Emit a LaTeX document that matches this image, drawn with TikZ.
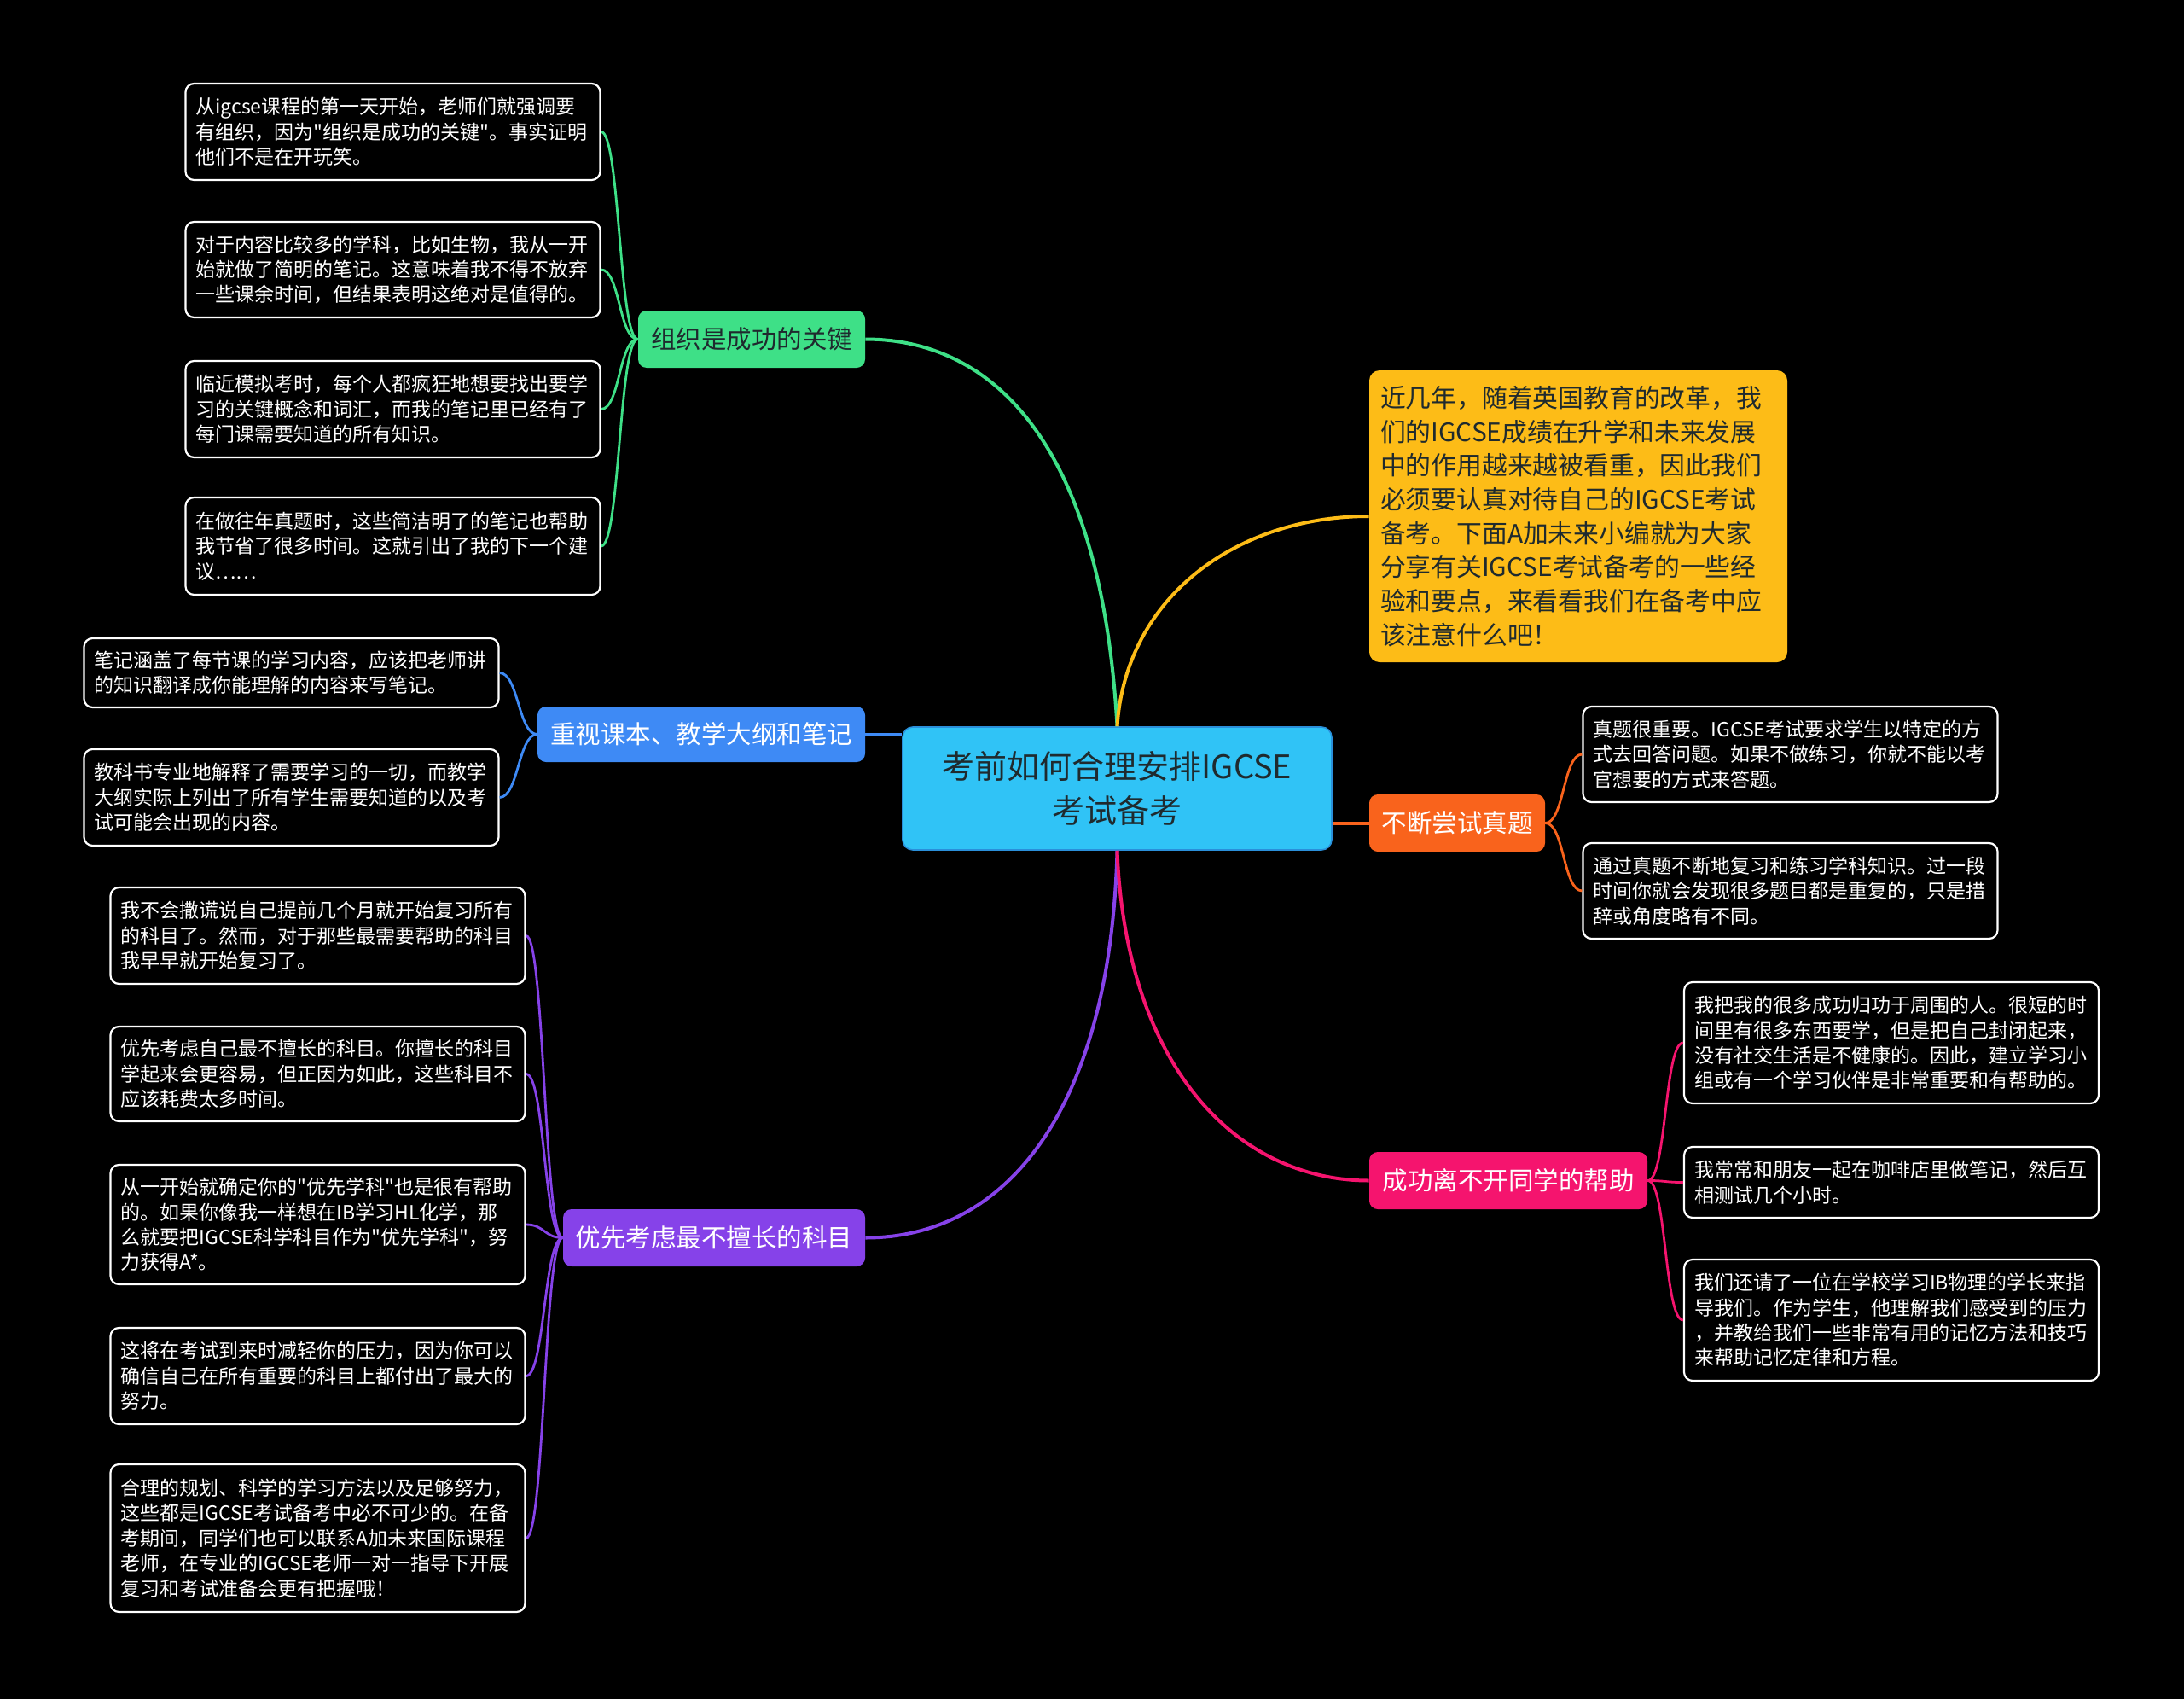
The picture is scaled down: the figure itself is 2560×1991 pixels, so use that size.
\documentclass[tikz,border=0pt]{standalone}
\usepackage{fontspec}
\setmainfont{Noto Sans CJK SC}[Ligatures=TeXOff]
\usetikzlibrary{calc}
\definecolor{rootc}{HTML}{30C3F6}
\definecolor{rootb}{HTML}{2A8FDA}
\definecolor{greenc}{HTML}{3EE087}
\definecolor{bluec}{HTML}{3E8AF5}
\definecolor{purplec}{HTML}{8642E9}
\definecolor{yellowc}{HTML}{FDBC17}
\definecolor{orangec}{HTML}{F9631C}
\definecolor{pinkc}{HTML}{F5146E}
\definecolor{darktext}{HTML}{1F2A2E}
\tikzset{
  child/.style={draw=white, line width=1.1pt, fill=black, text=white, rounded corners=5pt,
    align=left, text width=231pt, inner xsep=6pt, inner ysep=0pt,
    font=\fontsize{11.5}{14.7}\selectfont},
  branch/.style={rounded corners=5pt, inner sep=0pt, minimum height=33.5pt,
    font=\fontsize{14.75}{18}\selectfont},
  mainline/.style={line width=2pt},
  subline/.style={line width=1.4pt},
}
\begin{document}
\begin{tikzpicture}[x=0.5pt,y=-0.5pt]
\fill[black] (0,0) rectangle (2560,1991);
\useasboundingbox (0,0) rectangle (2560,1991);

% root
\node[fill=rootc, draw=rootb, line width=0.8pt, rounded corners=6pt, minimum width=251.5pt, minimum height=72pt,
  align=center, text=darktext, font=\fontsize{19}{26}\selectfont, inner sep=0pt]
  (root) at (1309.5,924) {考前如何合理安排IGCSE\\考试备考};

% branches
\node[branch, fill=greenc, text=darktext, minimum width=133pt] (g) at (881,397.5) {组织是成功的关键};
\node[branch, fill=bluec, text=white, minimum width=192pt, minimum height=32.5pt] (b) at (822,860.5) {重视课本、教学大纲和笔记};
\node[branch, fill=purplec, text=white, minimum width=177pt] (p) at (837,1450.5) {优先考虑最不擅长的科目};
\node[fill=yellowc, text=darktext, rounded corners=6pt, align=left, text width=232pt, inner xsep=6.5pt, inner ysep=0pt,
  minimum height=171pt, font=\fontsize{14.9}{19.85}\selectfont] (y) at (1850,605)
  {近几年，随着英国教育的改革，我\\们的IGCSE成绩在升学和未来发展\\中的作用越来越被看重，因此我们\\必须要认真对待自己的IGCSE考试\\备考。下面A加未来小编就为大家\\分享有关IGCSE考试备考的一些经\\验和要点，来看看我们在备考中应\\该注意什么吧！};
\node[branch, fill=orangec, text=white, minimum width=103pt] (o) at (1708,964.5) {不断尝试真题};
\node[branch, fill=pinkc, text=white, minimum width=163pt] (k) at (1768,1383.5) {成功离不开同学的帮助};

% green children
\node[child, minimum height=56.5pt] (g1) at (460.5,154.5) {从igcse课程的第一天开始，老师们就强调要\\有组织，因为"组织是成功的关键"。事实证明\\他们不是在开玩笑。};
\node[child, minimum height=56pt] (g2) at (460.5,316) {对于内容比较多的学科，比如生物，我从一开\\始就做了简明的笔记。这意味着我不得不放弃\\一些课余时间，但结果表明这绝对是值得的。};
\node[child, minimum height=56.5pt] (g3) at (460.5,479.5) {临近模拟考时，每个人都疯狂地想要找出要学\\习的关键概念和词汇，而我的笔记里已经有了\\每门课需要知道的所有知识。};
\node[child, minimum height=57pt] (g4) at (460.5,640) {在做往年真题时，这些简洁明了的笔记也帮助\\我节省了很多时间。这就引出了我的下一个建\\议……};

% blue children
\node[child, minimum height=40.5pt] (b1) at (341.5,788.5) {笔记涵盖了每节课的学习内容，应该把老师讲\\的知识翻译成你能理解的内容来写笔记。};
\node[child, minimum height=56.5pt] (b2) at (341.5,934.5) {教科书专业地解释了需要学习的一切，而教学\\大纲实际上列出了所有学生需要知道的以及考\\试可能会出现的内容。};

% purple children
\node[child, minimum height=56.5pt] (p1) at (372.5,1096.5) {我不会撒谎说自己提前几个月就开始复习所有\\的科目了。然而，对于那些最需要帮助的科目\\我早早就开始复习了。};
\node[child, minimum height=55.5pt] (p2) at (372.5,1258.5) {优先考虑自己最不擅长的科目。你擅长的科目\\学起来会更容易，但正因为如此，这些科目不\\应该耗费太多时间。};
\node[child, minimum height=70pt] (p3) at (372.5,1435) {从一开始就确定你的"优先学科"也是很有帮助\\的。如果你像我一样想在IB学习HL化学，那\\么就要把IGCSE科学科目作为"优先学科"，努\\力获得A*。};
\node[child, minimum height=56.5pt] (p4) at (372.5,1612.5) {这将在考试到来时减轻你的压力，因为你可以\\确信自己在所有重要的科目上都付出了最大的\\努力。};
\node[child, minimum height=86.5pt] (p5) at (372.5,1802.5) {合理的规划、科学的学习方法以及足够努力，\\这些都是IGCSE考试备考中必不可少的。在备\\考期间，同学们也可以联系A加未来国际课程\\老师，在专业的IGCSE老师一对一指导下开展\\复习和考试准备会更有把握哦！};

% orange children
\node[child, minimum height=56pt] (o1) at (2098.5,884) {真题很重要。IGCSE考试要求学生以特定的方\\式去回答问题。如果不做练习，你就不能以考\\官想要的方式来答题。};
\node[child, minimum height=56pt] (o2) at (2098.5,1044) {通过真题不断地复习和练习学科知识。过一段\\时间你就会发现很多题目都是重复的，只是措\\辞或角度略有不同。};

% pink children
\node[child, minimum height=71pt] (k1) at (2217,1222) {我把我的很多成功归功于周围的人。很短的时\\间里有很多东西要学，但是把自己封闭起来，\\没有社交生活是不健康的。因此，建立学习小\\组或有一个学习伙伴是非常重要和有帮助的。};
\node[child, minimum height=41.5pt] (k2) at (2217,1385.5) {我常常和朋友一起在咖啡店里做笔记，然后互\\相测试几个小时。};
\node[child, minimum height=71pt] (k3) at (2217,1547) {我们还请了一位在学校学习IB物理的学长来指\\导我们。作为学生，他理解我们感受到的压力\\，并教给我们一些非常有用的记忆方法和技巧\\来帮助记忆定律和方程。};

% main connectors
\draw[mainline, greenc] (root.north) .. controls +(-20,-352) and ($(g.east)+(136,0)$) .. (g.east);
\draw[mainline, yellowc] (root.north) .. controls +(10,-152) and ($(y.west)+(-155,0)$) .. (y.west);
\draw[mainline, bluec] (root.west |- b.east) -- (b.east);
\draw[mainline, orangec] (root.east |- o.west) -- (o.west);
\draw[mainline, purplec] (root.south) .. controls +(-8,303) and ($(p.east)+(166,0)$) .. (p.east);
\draw[mainline, pinkc] (root.south) .. controls +(10,253) and ($(k.west)+(-155,0)$) .. (k.west);

% sub connectors
\foreach \c in {g1,g2,g3,g4}
  \draw[subline, greenc] (g.west) .. controls +(-22,0) and ($(\c.east)+(22,0)$) .. (\c.east);
\foreach \c in {b1,b2}
  \draw[subline, bluec] (b.west) .. controls +(-22,0) and ($(\c.east)+(22,0)$) .. (\c.east);
\foreach \c in {p1,p2,p3,p4,p5}
  \draw[subline, purplec] (p.west) .. controls +(-22,0) and ($(\c.east)+(22,0)$) .. (\c.east);
\foreach \c in {o1,o2}
  \draw[subline, orangec] (o.east) .. controls +(22,0) and ($(\c.west)+(-22,0)$) .. (\c.west);
\foreach \c in {k1,k2,k3}
  \draw[subline, pinkc] (k.east) .. controls +(22,0) and ($(\c.west)+(-22,0)$) .. (\c.west);
\end{tikzpicture}
\end{document}
